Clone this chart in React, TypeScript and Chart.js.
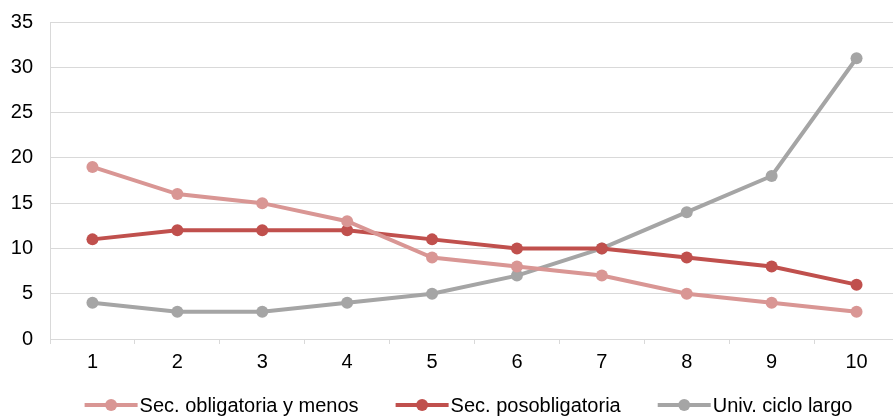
import React, { useEffect, useRef } from "react";
import { Chart, registerables } from "chart.js";

Chart.register(...registerables);

const categories = ["1", "2", "3", "4", "5", "6", "7", "8", "9", "10"];
const secObligatoria = [19, 16, 15, 13, 9, 8, 7, 5, 4, 3];
const secPosobligatoria = [11, 12, 12, 12, 11, 10, 10, 9, 8, 6];
const univCicloLargo = [4, 3, 3, 4, 5, 7, 10, 14, 18, 31];
const seriesNames = ["Sec. obligatoria y menos", "Sec. posobligatoria", "Univ. ciclo largo"];
const seriesColors = ["#D99694", "#C0504D", "#A5A5A5"];

const FONT = "Arial, 'Liberation Sans', sans-serif";

const legendPlugin = {
  id: "lineLegend",
  afterDraw(chart: any) {
    const ctx = chart.ctx;
    ctx.save();
    ctx.font = `20px ${FONT}`;
    const lineLen = 53;
    const gap = 2;
    const itemGap = 37;
    const items = chart.data.datasets.map((d: any) => ({
      label: d.label,
      color: d.borderColor,
      w: lineLen + gap + ctx.measureText(d.label).width,
    }));
    const total = items.reduce((s: number, it: any) => s + it.w, 0) + itemGap * (items.length - 1);
    const center = 468.5;
    let x = center - total / 2;
    const y = 405;
    for (const it of items) {
      ctx.strokeStyle = it.color;
      ctx.lineWidth = 4;
      ctx.lineCap = "butt";
      ctx.beginPath();
      ctx.moveTo(x, y);
      ctx.lineTo(x + lineLen, y);
      ctx.stroke();
      ctx.fillStyle = it.color;
      ctx.beginPath();
      ctx.arc(x + lineLen / 2, y, 6, 0, Math.PI * 2);
      ctx.fill();
      ctx.fillStyle = "#000";
      ctx.textBaseline = "middle";
      ctx.textAlign = "left";
      ctx.fillText(it.label, x + lineLen + gap, y + 1);
      x += it.w + itemGap;
    }
    ctx.restore();
  },
};

export default function App() {
  const ref = useRef<HTMLCanvasElement>(null);
  useEffect(() => {
    const data = [secObligatoria, secPosobligatoria, univCicloLargo];
    const chart = new Chart(ref.current!, {
      type: "line",
      data: {
        labels: categories,
        datasets: data.map((vals, i) => ({
          label: seriesNames[i],
          data: vals,
          borderColor: seriesColors[i],
          backgroundColor: seriesColors[i],
          borderWidth: 4,
          pointRadius: 6,
          pointHoverRadius: 6,
          pointBorderWidth: 0,
          tension: 0,
        })),
      },
      options: {
        responsive: false,
        animation: false,
        layout: { padding: { top: 22, right: 1, bottom: 49, left: 0 } },
        plugins: { legend: { display: false }, tooltip: { enabled: false } },
        scales: {
          x: {
            offset: true,
            grid: {
              offset: true,
              drawOnChartArea: false,
              drawTicks: true,
              tickLength: 5,
              color: "#D9D9D9",
            },
            border: { display: true, color: "#D9D9D9" },
            ticks: { color: "#000", font: { size: 20, family: FONT }, padding: 6, maxRotation: 0 },
            afterFit(scale: any) {
              scale.height = 30;
              scale.paddingLeft = 0;
              scale.paddingRight = 0;
            },
          },
          y: {
            min: 0,
            max: 35,
            ticks: { stepSize: 5, color: "#000", font: { size: 20, family: FONT }, padding: 17 },
            grid: { color: "#D9D9D9", drawTicks: false },
            border: { display: true, color: "#D9D9D9" },
            afterFit(scale: any) {
              scale.width = 50;
              scale.paddingTop = 0;
              scale.paddingBottom = 0;
            },
          },
        },
      },
      plugins: [legendPlugin],
    });
    return () => chart.destroy();
  }, []);
  return (
    <div style={{ position: "fixed", left: 0, top: 0, width: 893, height: 418, overflow: "hidden", background: "#fff" }}>
      <canvas ref={ref} width={905} height={418} style={{ display: "block" }} />
    </div>
  );
}
